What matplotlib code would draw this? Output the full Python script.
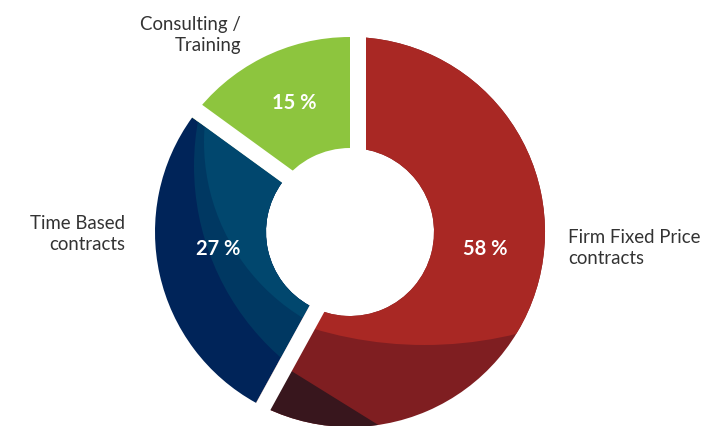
import numpy as np
import matplotlib
matplotlib.use("Agg")
import matplotlib.pyplot as plt
from matplotlib.patches import Wedge, Circle, Polygon

# data
categories = ["Firm Fixed Price\ncontracts", "Time Based\ncontracts", "Consulting /\nTraining"]
shares = [58, 27, 15]
base_colors = ["#7f1e21", "#002459", "#8dc53e"]

# layout (pixel coords, y pointing down)
W, H = 728, 426
cx, cy = 350, 232
R_OUT, R_IN = 195, 84
GAP = 16
# which side of each slice start boundary gets the white gap (+1 clockwise, -1 counter)
gap_side = [+1, -1, +1]
pct_pos = [(485, 249), (218, 249), (294, 103)]
cat_pos = [(568, 248, "left"), (125, 234, "right"), (241, 35, "right")]

plt.rcParams["font.family"] = ["Lato", "DejaVu Sans"]

fig = plt.figure(figsize=(W / 100, H / 100), dpi=100)
ax = fig.add_axes([0, 0, 1, 1])
ax.set_xlim(0, W)
ax.set_ylim(H, 0)
ax.set_aspect("equal")
ax.axis("off")

# angles measured clockwise from 12 o'clock
bounds = np.concatenate([[0], np.cumsum(shares) / sum(shares) * 360])

wedges = []
for i, share in enumerate(shares):
    a0, a1 = bounds[i], bounds[i + 1]
    w = Wedge((cx, cy), R_OUT, a0 - 90, a1 - 90, width=R_OUT - R_IN,
              facecolor=base_colors[i], edgecolor="none", zorder=2)
    ax.add_patch(w)
    wedges.append(w)

# shading bands inside the red slice
red = wedges[0]
c1 = Circle((424.5, -41), 386, facecolor="#a92824", edgecolor="none", zorder=3)
ax.add_patch(c1)
c1.set_clip_path(red)
p, q = np.array([293.0, 372.0]), np.array([380.0, 426.0])
d = (q - p) / np.linalg.norm(q - p)
nrm = np.array([-d[1], d[0]])
dark = Polygon([p - 300 * d, q + 300 * d, q + 300 * d + 400 * nrm, p - 300 * d + 400 * nrm],
               facecolor="#38161d", edgecolor="none", zorder=4)
ax.add_patch(dark)
dark.set_clip_path(red)

# shading bands inside the blue slice
blue = wedges[1]
for (ccx, ccy), rr, col, z in [((449, 166), 255, "#003862", 3), ((410, 142), 206, "#01476e", 4)]:
    c = Circle((ccx, ccy), rr, facecolor=col, edgecolor="none", zorder=z)
    ax.add_patch(c)
    c.set_clip_path(blue)

# white gaps between slices
for i in range(len(shares)):
    th = np.radians(bounds[i])
    u = np.array([np.sin(th), -np.cos(th)])
    n = np.array([np.cos(th), np.sin(th)]) * gap_side[i]
    c0 = np.array([cx, cy])
    pts = [c0, c0 + (R_OUT + 10) * u, c0 + (R_OUT + 10) * u + GAP * n, c0 + GAP * n]
    ax.add_patch(Polygon(pts, facecolor="white", edgecolor="none", zorder=6))

for (x, y), v in zip(pct_pos, shares):
    ax.text(x, y, f"{v} %", color="white", fontsize=14.5, fontweight="bold",
            ha="center", va="center", zorder=8)

for (x, y, ha), lab in zip(cat_pos, categories):
    ax.text(x, y, lab, color="#333333", fontsize=13.4, ha=ha, va="center",
            multialignment=ha, linespacing=1.35, zorder=8)

fig.savefig("out.png", dpi=100, facecolor="white")
